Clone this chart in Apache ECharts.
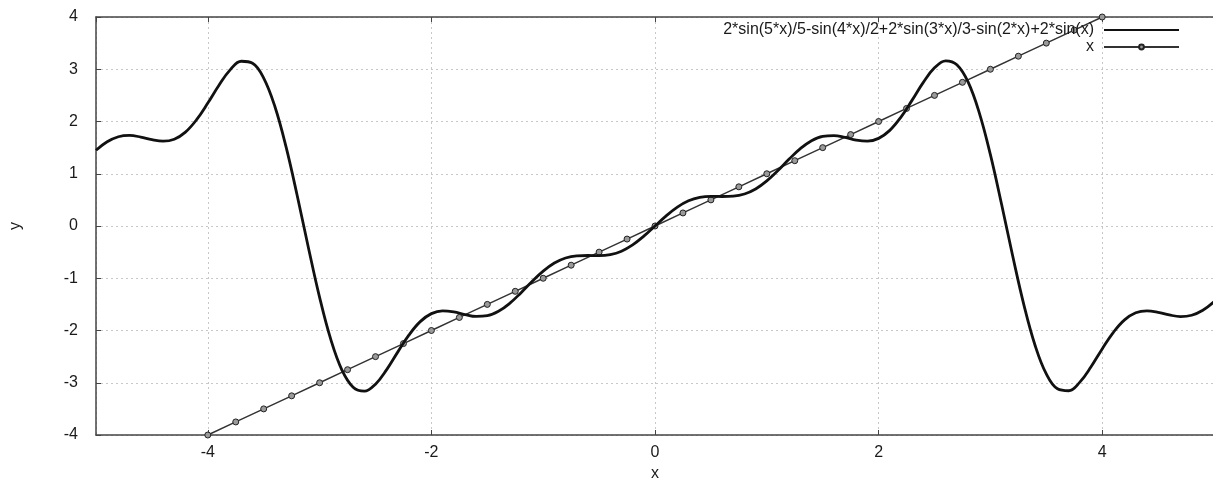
<!DOCTYPE html>
<html>
<head>
<meta charset="utf-8">
<title>sin sum vs x</title>
<script src="https://cdn.jsdelivr.net/npm/echarts@6/dist/echarts.min.js"></script>
<style>
  html, body { margin: 0; padding: 0; background: #fff; }
  #main { width: 1213px; height: 480px; }
</style>
</head>
<body>
<div id="main"></div>
<script>
// curve: 2*sin(5*x)/5-sin(4*x)/2+2*sin(3*x)/3-sin(2*x)+2*sin(x), read every 0.1 on x
var curveX = [-5, -4.9, -4.8, -4.7, -4.6, -4.5, -4.4, -4.3, -4.2, -4.1,
  -4, -3.9, -3.8, -3.7, -3.6, -3.5, -3.4, -3.3, -3.2, -3.1,
  -3, -2.9, -2.8, -2.7, -2.6, -2.5, -2.4, -2.3, -2.2, -2.1,
  -2, -1.9, -1.8, -1.7, -1.6, -1.5, -1.4, -1.3, -1.2, -1.1,
  -1, -0.9, -0.8, -0.7, -0.6, -0.5, -0.4, -0.3, -0.2, -0.1,
  0, 0.1, 0.2, 0.3, 0.4, 0.5, 0.6, 0.7, 0.8, 0.9,
  1, 1.1, 1.2, 1.3, 1.4, 1.5, 1.6, 1.7, 1.8, 1.9,
  2, 2.1, 2.2, 2.3, 2.4, 2.5, 2.6, 2.7, 2.8, 2.9,
  3, 3.1, 3.2, 3.3, 3.4, 3.5, 3.6, 3.7, 3.8, 3.9,
  4, 4.1, 4.2, 4.3, 4.4, 4.5, 4.6, 4.7, 4.8, 4.9, 5]
var curveY = [1.450, 1.612, 1.708, 1.733, 1.702, 1.651, 1.623, 1.661, 1.797, 2.035,
  2.352, 2.694, 2.988, 3.153, 3.116, 2.831, 2.286, 1.513, 0.580, -0.415,
  -1.365, -2.170, -2.757, -3.086, -3.162, -3.027, -2.749, -2.409, -2.084, -1.830,
  -1.677, -1.623, -1.643, -1.694, -1.731, -1.717, -1.633, -1.481, -1.280, -1.062,
  -0.863, -0.708, -0.612, -0.571, -0.565, -0.567, -0.547, -0.482, -0.362, -0.195,
  0, 0.195, 0.362, 0.482, 0.547, 0.567, 0.565, 0.571, 0.612, 0.708,
  0.863, 1.062, 1.280, 1.481, 1.633, 1.717, 1.731, 1.694, 1.643, 1.623,
  1.677, 1.830, 2.084, 2.409, 2.749, 3.027, 3.162, 3.086, 2.757, 2.170,
  1.365, 0.415, -0.580, -1.513, -2.286, -2.831, -3.116, -3.153, -2.988, -2.694,
  -2.352, -2.035, -1.797, -1.661, -1.623, -1.651, -1.702, -1.733, -1.708, -1.612, -1.450]

// straight line "x" with its point marks
var lineX = [-4, -3.75, -3.5, -3.25, -3, -2.75, -2.5, -2.25, -2, -1.75, -1.5, -1.25, -1, -0.75, -0.5, -0.25,
  0, 0.25, 0.5, 0.75, 1, 1.25, 1.5, 1.75, 2, 2.25, 2.5, 2.75, 3, 3.25, 3.5, 3.75, 4]
var lineY = [-4, -3.75, -3.5, -3.25, -3, -2.75, -2.5, -2.25, -2, -1.75, -1.5, -1.25, -1, -0.75, -0.5, -0.25,
  0, 0.25, 0.5, 0.75, 1, 1.25, 1.5, 1.75, 2, 2.25, 2.5, 2.75, 3, 3.25, 3.5, 3.75, 4]

var seriesNames = ['2*sin(5*x)/5-sin(4*x)/2+2*sin(3*x)/3-sin(2*x)+2*sin(x)', 'x']

function pairs(xs, ys) {
  return xs.map(function (v, i) {
    return [v, ys[i]]
  })
}

var font = '"Liberation Sans", Arial, sans-serif'
var axisColor = '#444'
var textColor = '#1a1a1a'

var chart = echarts.init(document.getElementById('main'), null, { renderer: 'canvas' })

var option = {
  backgroundColor: '#ffffff',
  animation: false,
  grid: {
    left: 96,
    top: 17,
    width: 1118,
    height: 418,
    outerBoundsMode: 'none' // keep the plot box where it is, labels may sit outside
  },
  legend: {
    orient: 'vertical',
    right: 33,
    top: 22,
    padding: 0,
    align: 'right',
    itemWidth: 75,
    itemHeight: 6,
    itemGap: 1,
    selectedMode: false,
    textStyle: {
      fontFamily: font,
      fontSize: 16,
      lineHeight: 14,
      color: textColor,
      padding: [0, 5, 0, 0]
    },
    data: [
      { name: seriesNames[0], itemStyle: { opacity: 0 } }, // plain line, no mark
      { name: seriesNames[1] }
    ]
  },
  xAxis: [{
    type: 'value',
    min: -5,
    max: 5,
    splitNumber: 5,
    name: 'x',
    nameLocation: 'middle',
    nameGap: 28,
    nameTextStyle: { fontFamily: font, fontSize: 16, color: textColor },
    axisLine: { show: true, onZero: false, lineStyle: { color: axisColor, width: 1.5 } },
    axisTick: { show: true, inside: true, length: 5, lineStyle: { color: axisColor } },
    axisLabel: {
      showMinLabel: false,
      showMaxLabel: false,
      margin: 10,
      fontFamily: font,
      fontSize: 16,
      color: textColor
    },
    splitLine: { show: true, lineStyle: { color: '#c8c8c8', type: [2, 3], width: 1 } }
  }, {
    // top frame with inward ticks
    type: 'value',
    position: 'top',
    min: -5,
    max: 5,
    splitNumber: 5,
    axisLine: { show: true, onZero: false, lineStyle: { color: axisColor, width: 1.5 } },
    axisTick: { show: true, inside: true, length: 5, lineStyle: { color: axisColor } },
    axisLabel: { show: false },
    splitLine: { show: false }
  }],
  yAxis: {
    type: 'value',
    min: -4,
    max: 4,
    interval: 1,
    name: 'y',
    nameLocation: 'middle',
    nameGap: 72,
    nameTextStyle: { fontFamily: font, fontSize: 16, color: textColor },
    axisLine: { show: true, onZero: false, lineStyle: { color: axisColor, width: 1.5 } },
    axisTick: { show: true, inside: true, length: 5, lineStyle: { color: axisColor } },
    axisLabel: {
      margin: 18,
      fontFamily: font,
      fontSize: 16,
      color: textColor
    },
    splitLine: { show: true, lineStyle: { color: '#c8c8c8', type: [2, 3], width: 1 } }
  },
  series: [{
    name: seriesNames[0],
    type: 'line',
    xAxisIndex: 0,
    data: pairs(curveX, curveY),
    smooth: 0.4,
    symbol: 'none',
    clip: true,
    lineStyle: { color: '#111', width: 2.8 },
    itemStyle: { color: '#111' },
    z: 3
  }, {
    name: seriesNames[1],
    type: 'line',
    xAxisIndex: 0,
    data: pairs(lineX, lineY),
    symbol: 'circle',
    symbolSize: 6,
    showAllSymbol: true,
    clip: true,
    lineStyle: { color: '#333', width: 1.5 },
    itemStyle: { color: '#9a9a9a', borderColor: '#222', borderWidth: 1 },
    z: 2
  }]
}

chart.setOption(option)
</script>
</body>
</html>
